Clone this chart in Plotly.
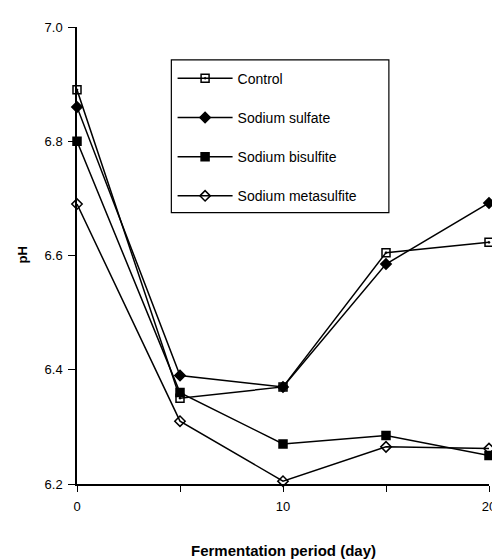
import plotly.graph_objects as go

days = [0, 5, 10, 15, 20]
control = [6.89, 6.35, 6.37, 6.605, 6.623]
sodium_sulfate = [6.86, 6.39, 6.37, 6.585, 6.692]
sodium_bisulfite = [6.80, 6.36, 6.27, 6.285, 6.25]
sodium_metasulfite = [6.69, 6.31, 6.205, 6.265, 6.262]

series = [
    ("Control", control, "square-open-dot", 8),
    ("Sodium sulfate", sodium_sulfate, "diamond", 8),
    ("Sodium bisulfite", sodium_bisulfite, "square", 8),
    ("Sodium metasulfite", sodium_metasulfite, "diamond-open", 8),
]

x_tickvals = [0, 5, 10, 15, 20]
x_ticktext = ["0", "", "10", "", "20"]
y_tickvals = [6.2, 6.4, 6.6, 6.8, 7.0]
y_ticktext = ["6.2", "6.4", "6.6", "6.8", "7.0"]

fig = go.Figure()
for i, (name, vals, sym, size) in enumerate(series):
    fig.add_trace(go.Scatter(
        x=days, y=vals, name=name, mode="lines+markers",
        line=dict(color="black", width=1.5),
        marker=dict(symbol=sym, size=size, color="black",
                    line=dict(color="black", width=1.5)),
        cliponaxis=False, legendgroup=f"g{i}",
    ))

fig.update_layout(
    width=500, height=559,
    margin=dict(l=69, r=12, t=15, b=83),
    plot_bgcolor="white", paper_bgcolor="white",
    font=dict(family="Liberation Sans, Arial, sans-serif", color="black", size=13),
    showlegend=True,
    legend=dict(
        x=0.232, y=0.922, xanchor="left", yanchor="top",
        bgcolor="rgba(0,0,0,0)", borderwidth=0,
        font=dict(size=14), tracegroupgap=18,
        itemwidth=55,
    ),
    shapes=[
        dict(type="rect", xref="paper", yref="paper",
             x0=0.229, x1=0.757, y0=0.594, y1=0.928,
             line=dict(color="black", width=1.2), fillcolor="white",
             layer="above"),
    ],
    xaxis=dict(
        range=[0, 20], tickvals=x_tickvals, ticktext=x_ticktext,
        showgrid=False, zeroline=False, showline=True, linecolor="black",
        linewidth=1.5, ticks="outside", ticklen=6, tickcolor="black",
        tickfont=dict(size=13), ticklabelstandoff=4,
    ),
    yaxis=dict(
        range=[6.2, 7.0], tickvals=y_tickvals, ticktext=y_ticktext,
        showgrid=False, zeroline=False, showline=True, linecolor="black",
        linewidth=1.5, ticks="outside", ticklen=7, tickcolor="black",
        tickfont=dict(size=13), ticklabelstandoff=3,
    ),
    annotations=[
        dict(text="<b>Fermentation period (day)</b>", xref="paper", yref="paper",
             x=0.5, y=0, yshift=-66, xanchor="center", yanchor="middle",
             showarrow=False, font=dict(size=15)),
        dict(text="<b>pH</b>", xref="paper", yref="paper", x=0, xshift=-55,
             y=0.5, xanchor="center", yanchor="middle", textangle=-90,
             showarrow=False, font=dict(size=13)),
    ],
)

fig.write_html("out.html")
